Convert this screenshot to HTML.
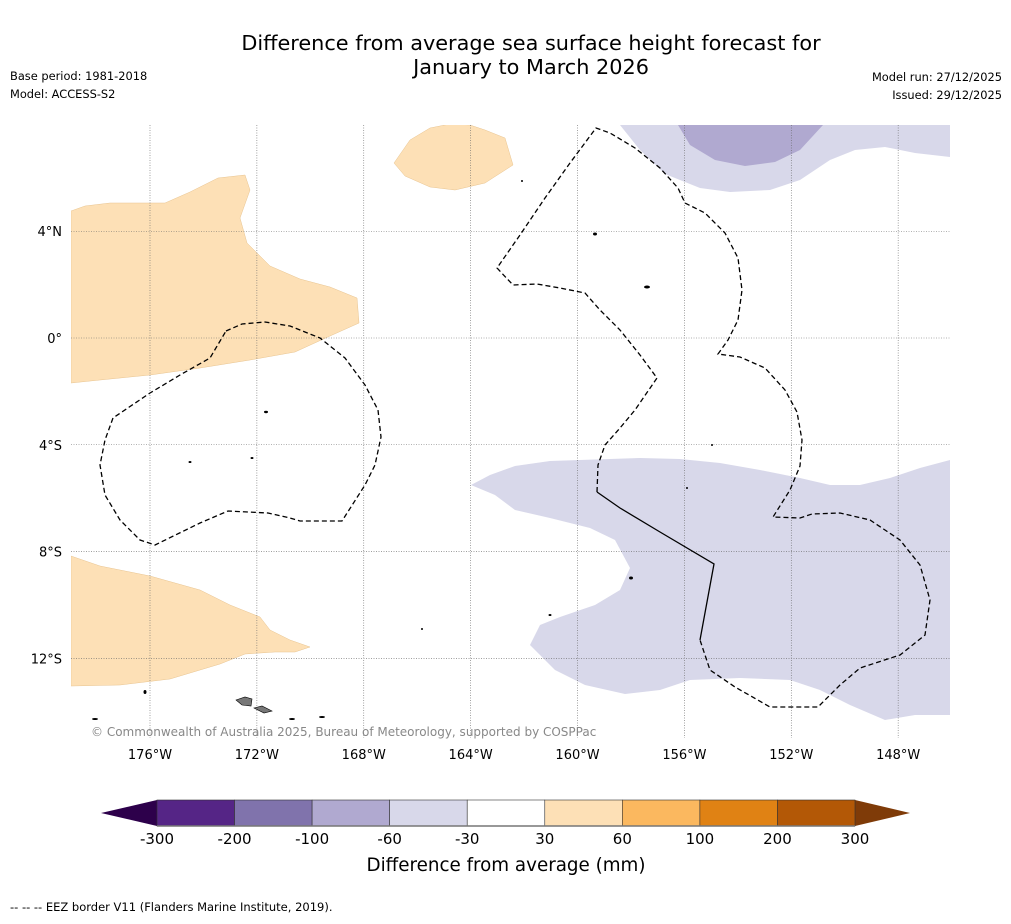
<!DOCTYPE html>
<html><head><meta charset="utf-8"><style>
body{margin:0;background:#fff;width:1011px;height:919px;overflow:hidden;font-family:"Liberation Sans","DejaVu Sans",sans-serif}
</style></head><body>
<svg id="chart" width="1011" height="919" xmlns="http://www.w3.org/2000/svg" font-family="DejaVu Sans, Liberation Sans, sans-serif">
<text x="531" y="50" font-size="20.8" text-anchor="middle">Difference from average sea surface height forecast for</text>
<text x="531" y="74" font-size="20.8" text-anchor="middle">January to March 2026</text>
<text x="10" y="80" font-size="11.4">Base period: 1981-2018</text>
<text x="10" y="98" font-size="11.4">Model: ACCESS-S2</text>
<text x="1002" y="81" font-size="11.4" text-anchor="end">Model run: 27/12/2025</text>
<text x="1002" y="99" font-size="11.4" text-anchor="end">Issued: 29/12/2025</text>
<defs><clipPath id="mapclip"><rect x="71" y="125" width="879" height="613"/></clipPath></defs>
<g id="map" clip-path="url(#mapclip)">
<path fill="#fde0b6" stroke="#e8c490" stroke-width="0.5" d="M71,211 L85,206 110,203 165,203 190,192 218,178 245,175 250,190 240,218 247,243 270,266 300,279 330,287 357,298 359,323 330,336 295,352 250,360 200,368 150,375 100,380 71,383 Z"/>
<path fill="#fde0b6" stroke="#e8c490" stroke-width="0.5" d="M394,163 410,140 430,128 450,124 470,125 485,130 505,138 513,165 485,183 455,190 430,187 405,176 Z"/>
<path fill="#fde0b6" stroke="#e8c490" stroke-width="0.5" d="M71,556 100,566 150,576 200,590 230,605 260,617 270,630 290,640 310,647 295,652 275,652 245,654 220,664 170,679 120,685 71,686 Z"/>
<path fill="#d8d8ea" d="M620,125 640,150 665,174 700,188 730,192 770,190 800,180 830,160 855,150 885,147 915,153 950,157 950,120 615,120 Z"/>
<path fill="#b0a9d0" d="M678,120 678,125 690,145 715,160 745,166 775,162 800,150 823,125 823,120 Z"/>
<path fill="#d8d8ea" d="M471,485 490,475 515,466 550,461 640,458 680,459 720,463 760,470 800,478 830,485 860,485 890,478 920,468 950,460 950,715 915,715 885,720 850,705 820,690 790,680 740,678 690,680 660,690 625,694 585,685 555,670 540,655 530,645 540,625 560,617 595,605 620,590 630,568 615,540 590,528 550,518 515,510 495,495 Z"/>
<g id="grid"></g>
<g fill="none" stroke="#000" stroke-width="1.3">
<path stroke-dasharray="5,3" d="M226,331 242,324 265,322 290,326 320,338 345,358 365,385 378,410 381,437 375,465 365,485 342,521 300,521 290,518 268,513 228,511 200,523 155,545 140,540 120,520 105,495 100,465 105,440 113,418 150,393 180,375 210,358 Z"/>
<path stroke-dasharray="5,3" d="M597,492 598,465 605,445 620,428 635,410 657,378 640,355 620,330 600,310 585,293 560,288 537,284 513,285 497,268 520,235 545,198 570,163 596,128 610,133 635,148 660,168 678,188 685,203 705,213 725,233 738,258 742,290 738,320 728,340 718,354 740,357 765,368 785,390 797,412 802,440 800,466 790,490 773,517 800,518 812,514 840,513 870,520 900,540 920,565 930,600 925,635 900,655 860,668 840,685 818,707 770,707 735,687 710,670 700,640"/>
<path d="M597,492 620,508 660,532 714,564 700,640"/>
</g>
<g fill="#000">
<ellipse cx="266" cy="412" rx="2" ry="1.2"/><ellipse cx="252" cy="458" rx="1.5" ry="1"/><ellipse cx="190" cy="462" rx="1.5" ry="1"/>
<ellipse cx="595" cy="234" rx="2" ry="1.5"/><ellipse cx="647" cy="287" rx="3" ry="1.5"/><ellipse cx="145" cy="692" rx="1.5" ry="2"/>
<ellipse cx="95" cy="719" rx="3" ry="1"/><ellipse cx="292" cy="719" rx="3" ry="1"/><ellipse cx="322" cy="717" rx="3" ry="1"/>
<ellipse cx="631" cy="578" rx="2" ry="1.5"/><ellipse cx="550" cy="615" rx="1.5" ry="1"/><ellipse cx="712" cy="445" rx="1" ry="1"/>
<ellipse cx="687" cy="488" rx="1" ry="1"/><ellipse cx="422" cy="629" rx="1" ry="1"/><ellipse cx="522" cy="181" rx="1" ry="1"/>
<path fill="#777" stroke="#000" stroke-width="0.6" d="M236,700 245,697 252,699 251,706 242,705 Z M254,708 262,706 272,711 264,713 Z"/>
</g>
</g>
<text x="91" y="736" font-size="12" fill="#888">© Commonwealth of Australia 2025, Bureau of Meteorology, supported by COSPPac</text>
<g id="axes" font-size="13"></g>
<g id="cbar"></g>
<text x="506" y="871" font-size="18.3" text-anchor="middle">Difference from average (mm)</text>
<text x="10" y="911" font-size="11.5">--  --  -- EEZ border V11 (Flanders Marine Institute, 2019).</text>
</svg>
<script>
const lonTicks=[-176,-172,-168,-164,-160,-156,-152,-148];
const lonLabels=["176°W","172°W","168°W","164°W","160°W","156°W","152°W","148°W"];
const latTicks=[4,0,-4,-8,-12];
const latLabels=["4°N","0°","4°S","8°S","12°S"];
const cbarLevels=["-300","-200","-100","-60","-30","30","60","100","200","300"];
const cbarColors=["#552586","#8073ac","#b0a9d0","#d8d8ea","#ffffff","#fde0b6","#fbb85f","#e08214","#b35806"];
const NS="http://www.w3.org/2000/svg";
const xOf=lon=>150+(lon+176)*26.72, yOf=lat=>338-lat*26.69;
function mk(t,a,p){const e=document.createElementNS(NS,t);for(const k in a)e.setAttribute(k,a[k]);p.appendChild(e);return e;}
const grid=document.getElementById('grid'), axes=document.getElementById('axes');
lonTicks.forEach((lon,i)=>{
 const l=mk('line',{x1:xOf(lon),x2:xOf(lon),y1:125,y2:738,stroke:'#666','stroke-width':0.6,'stroke-dasharray':'1,1.5'},grid);
 
 
 const t=mk('text',{x:xOf(lon),y:759,'text-anchor':'middle'},axes);t.textContent=lonLabels[i];
 
 
});
latTicks.forEach((lat,i)=>{
 const l=mk('line',{x1:71,x2:950,y1:yOf(lat),y2:yOf(lat),stroke:'#666','stroke-width':0.6,'stroke-dasharray':'1,1.5'},grid);
 
 
 const t=mk('text',{x:62,y:yOf(lat)+5,'text-anchor':'end'},axes);t.textContent=latLabels[i];
 
 
});
const cb=document.getElementById('cbar');const x0=157,w=(855-157)/cbarColors.length,y0=800,h=26;
const lt=mk('polygon',{points:`101,${y0+h/2} ${x0},${y0} ${x0},${y0+h}`,fill:'#2d004b'},cb);


const rt=mk('polygon',{points:`910,${y0+h/2} 855,${y0} 855,${y0+h}`,fill:'#7f3b08'},cb);


cbarColors.forEach((c,i)=>{
 const r=mk('rect',{x:x0+i*w,y:y0,width:w,height:h,fill:c,stroke:'#333','stroke-width':0.6},cb);
 
 
});
mk('line',{x1:x0,x2:855,y1:y0+h,y2:y0+h,stroke:'#777','stroke-width':1.5},cb);
cbarLevels.forEach((v,i)=>{
 const t=mk('text',{x:x0+i*w,y:844,'font-size':15,'text-anchor':'middle'},cb);t.textContent=v;
 
 
});
</script>
</body></html>
